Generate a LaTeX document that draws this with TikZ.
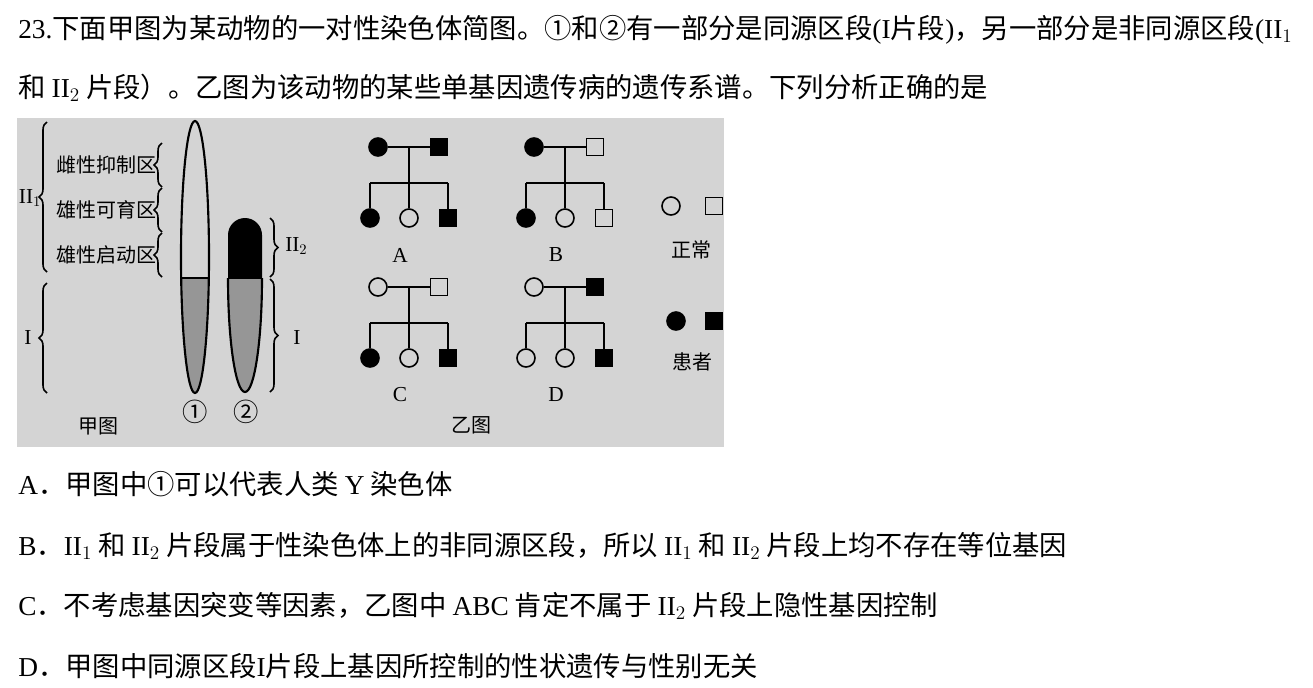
\documentclass[tikz,border=0pt]{standalone}
\usepackage{fontspec}
\setmainfont{Liberation Serif}
\newfontfamily\cjk{Noto Sans CJK SC}
\newcommand{\lat}[1]{{\rmfamily #1}}
\usetikzlibrary{decorations.pathreplacing}
\definecolor{panel}{RGB}{212,212,212}
\definecolor{chgray}{RGB}{150,150,150}
\begin{document}
\begin{tikzpicture}[x=0.75pt,y=-0.75pt,
  txt/.style={anchor=west,inner sep=0,font=\fontsize{20.5}{24}\selectfont\cjk},
  lab/.style={inner sep=0,font=\fontsize{15}{17}\selectfont\cjk},
  brc/.style={draw,line width=1.2pt,decorate,decoration={brace,amplitude=6pt}},
  fem/.style={circle,draw,line width=1.2pt,minimum size=13.5pt,inner sep=0},
  mal/.style={rectangle,draw,line width=1.2pt,minimum size=12.5pt,inner sep=0},
  aff/.style={fill=black},
  ln/.style={line width=1.3pt},
  chr/.style={line width=1.6pt}]
\useasboundingbox[fill=white] (0,0) rectangle (1313,687);
\clip (0,0) rectangle (1313,687);
\node[txt] (t1) at (18,30) {\lat{23.}下面甲图为某动物的一对性染色体简图。①和②有一部分是同源区段\lat{(I}片段\lat{)}，另一部分是非同源区段\lat{(II$_1$}};
\node[txt] (t2) at (18,88) {和 \lat{II$_2$} 片段）。乙图为该动物的某些单基因遗传病的遗传系谱。下列分析正确的是};
\node[txt] (oa) at (18,484) {\lat{A}．甲图中①可以代表人类 \lat{Y} 染色体};
\node[txt] (ob) at (18,546) {\lat{B}．\lat{II$_1$} 和 \lat{II$_2$} 片段属于性染色体上的非同源区段，所以 \lat{II$_1$} 和 \lat{II$_2$} 片段上均不存在等位基因};
\node[txt] (oc) at (18,606) {\lat{C}．不考虑基因突变等因素，乙图中 \lat{ABC} 肯定不属于 \lat{II$_2$} 片段上隐性基因控制};
\node[txt] (od) at (18,666) {\lat{D}．甲图中同源区段\lat{I}片段上基因所控制的性状遗传与性别无关};
\fill[panel] (17,118) rectangle (724,447);
% chromosome 1
\begin{scope}
\clip (150,278) rectangle (240,400);
\fill[chgray] (195,257) ellipse (14 and 136);
\end{scope}
\draw[chr] (195,257) ellipse (14 and 136);
\draw[chr] (181,278) -- (209,278);
% chromosome 2
\fill[black] (228,278) -- (228,235) arc[start angle=180,end angle=360,x radius=17,y radius=17] -- (262,278) -- cycle;
\begin{scope}
\clip (220,278) rectangle (270,400);
\fill[chgray] (245,278) ellipse (17 and 114);
\draw[chr] (245,278) ellipse (17 and 114);
\end{scope}
\draw[chr] (228,278) -- (262,278);
% braces
\draw[brc] (47,272) -- (47,122);
\draw[brc] (47,393) -- (47,283);
\draw[brc] (162,187) -- (162,143);
\draw[brc] (162,232) -- (162,188);
\draw[brc] (162,277) -- (162,233);
\draw[brc] (270,218) -- (270,277);
\draw[brc] (270,279) -- (270,392);
\node[lab,anchor=east] (l1) at (157,165) {雌性抑制区};
\node[lab,anchor=east] (l2) at (157,210) {雄性可育区};
\node[lab,anchor=east] (l3) at (157,255) {雄性启动区};
\node[lab,font=\fontsize{16}{17}\selectfont\rmfamily] (II1) at (30,198) {II$_1$};
\node[lab,font=\fontsize{16}{17}\selectfont\rmfamily] (I1) at (28,338) {I};
\node[lab,font=\fontsize{16}{17}\selectfont\rmfamily,anchor=west] (II2) at (285,246) {II$_2$};
\node[lab,font=\fontsize{16}{17}\selectfont\rmfamily,anchor=west] (I2) at (293,338) {I};
\node[lab,font=\fontsize{19}{20}\selectfont\cjk] (c1) at (195,412) {①};
\node[lab,font=\fontsize{19}{20}\selectfont\cjk] (c2) at (246,412) {②};
\node[lab] (jia) at (98,426) {甲图};
% pedigrees
\newcommand{\ped}[8]{%
 \begin{scope}[shift={(#1,#2)}]
  \node[fem,#3] (#8f) at (378,147) {};
  \node[mal,#4] (#8m) at (439,147) {};
  \coordinate (#8j) at (409,147);
  \coordinate (#8h) at (409,183);
  \coordinate (#8hl) at (370,183);
  \coordinate (#8hr) at (448,183);
  \node[fem,#5] (#8a) at (370,218) {};
  \node[fem,#6] (#8b) at (409,218) {};
  \node[#7] (#8c) at (448,218) {};
  \draw[ln] (#8f) -- (#8m);
  \draw[ln] (#8j) -- (#8b);
  \draw[ln] (#8hl) -- (#8hr);
  \draw[ln] (#8hl) -- (#8a);
  \draw[ln] (#8hr) -- (#8c);
  \node[lab,font=\fontsize{16}{17}\selectfont\rmfamily] (#8lab) at (400,255) {#8};
 \end{scope}}
\ped{0}{0}{aff}{aff}{aff}{}{mal,aff}{A}
\ped{156}{0}{aff}{}{aff}{}{mal}{B}
\ped{0}{140}{}{}{aff}{}{mal,aff}{C}
\ped{156}{140}{}{aff}{}{}{mal,aff}{D}
\node[fem] (nf) at (671,206) {};
\node[mal] (nm) at (714,206) {};
\node[lab] (nl) at (691,250) {正常};
\node[fem,aff] (af) at (676,321) {};
\node[mal,aff] (am) at (714,321) {};
\node[lab] (al) at (692,362) {患者};
\node[lab] (yi) at (471,425) {乙图};
\end{tikzpicture}
\end{document}
